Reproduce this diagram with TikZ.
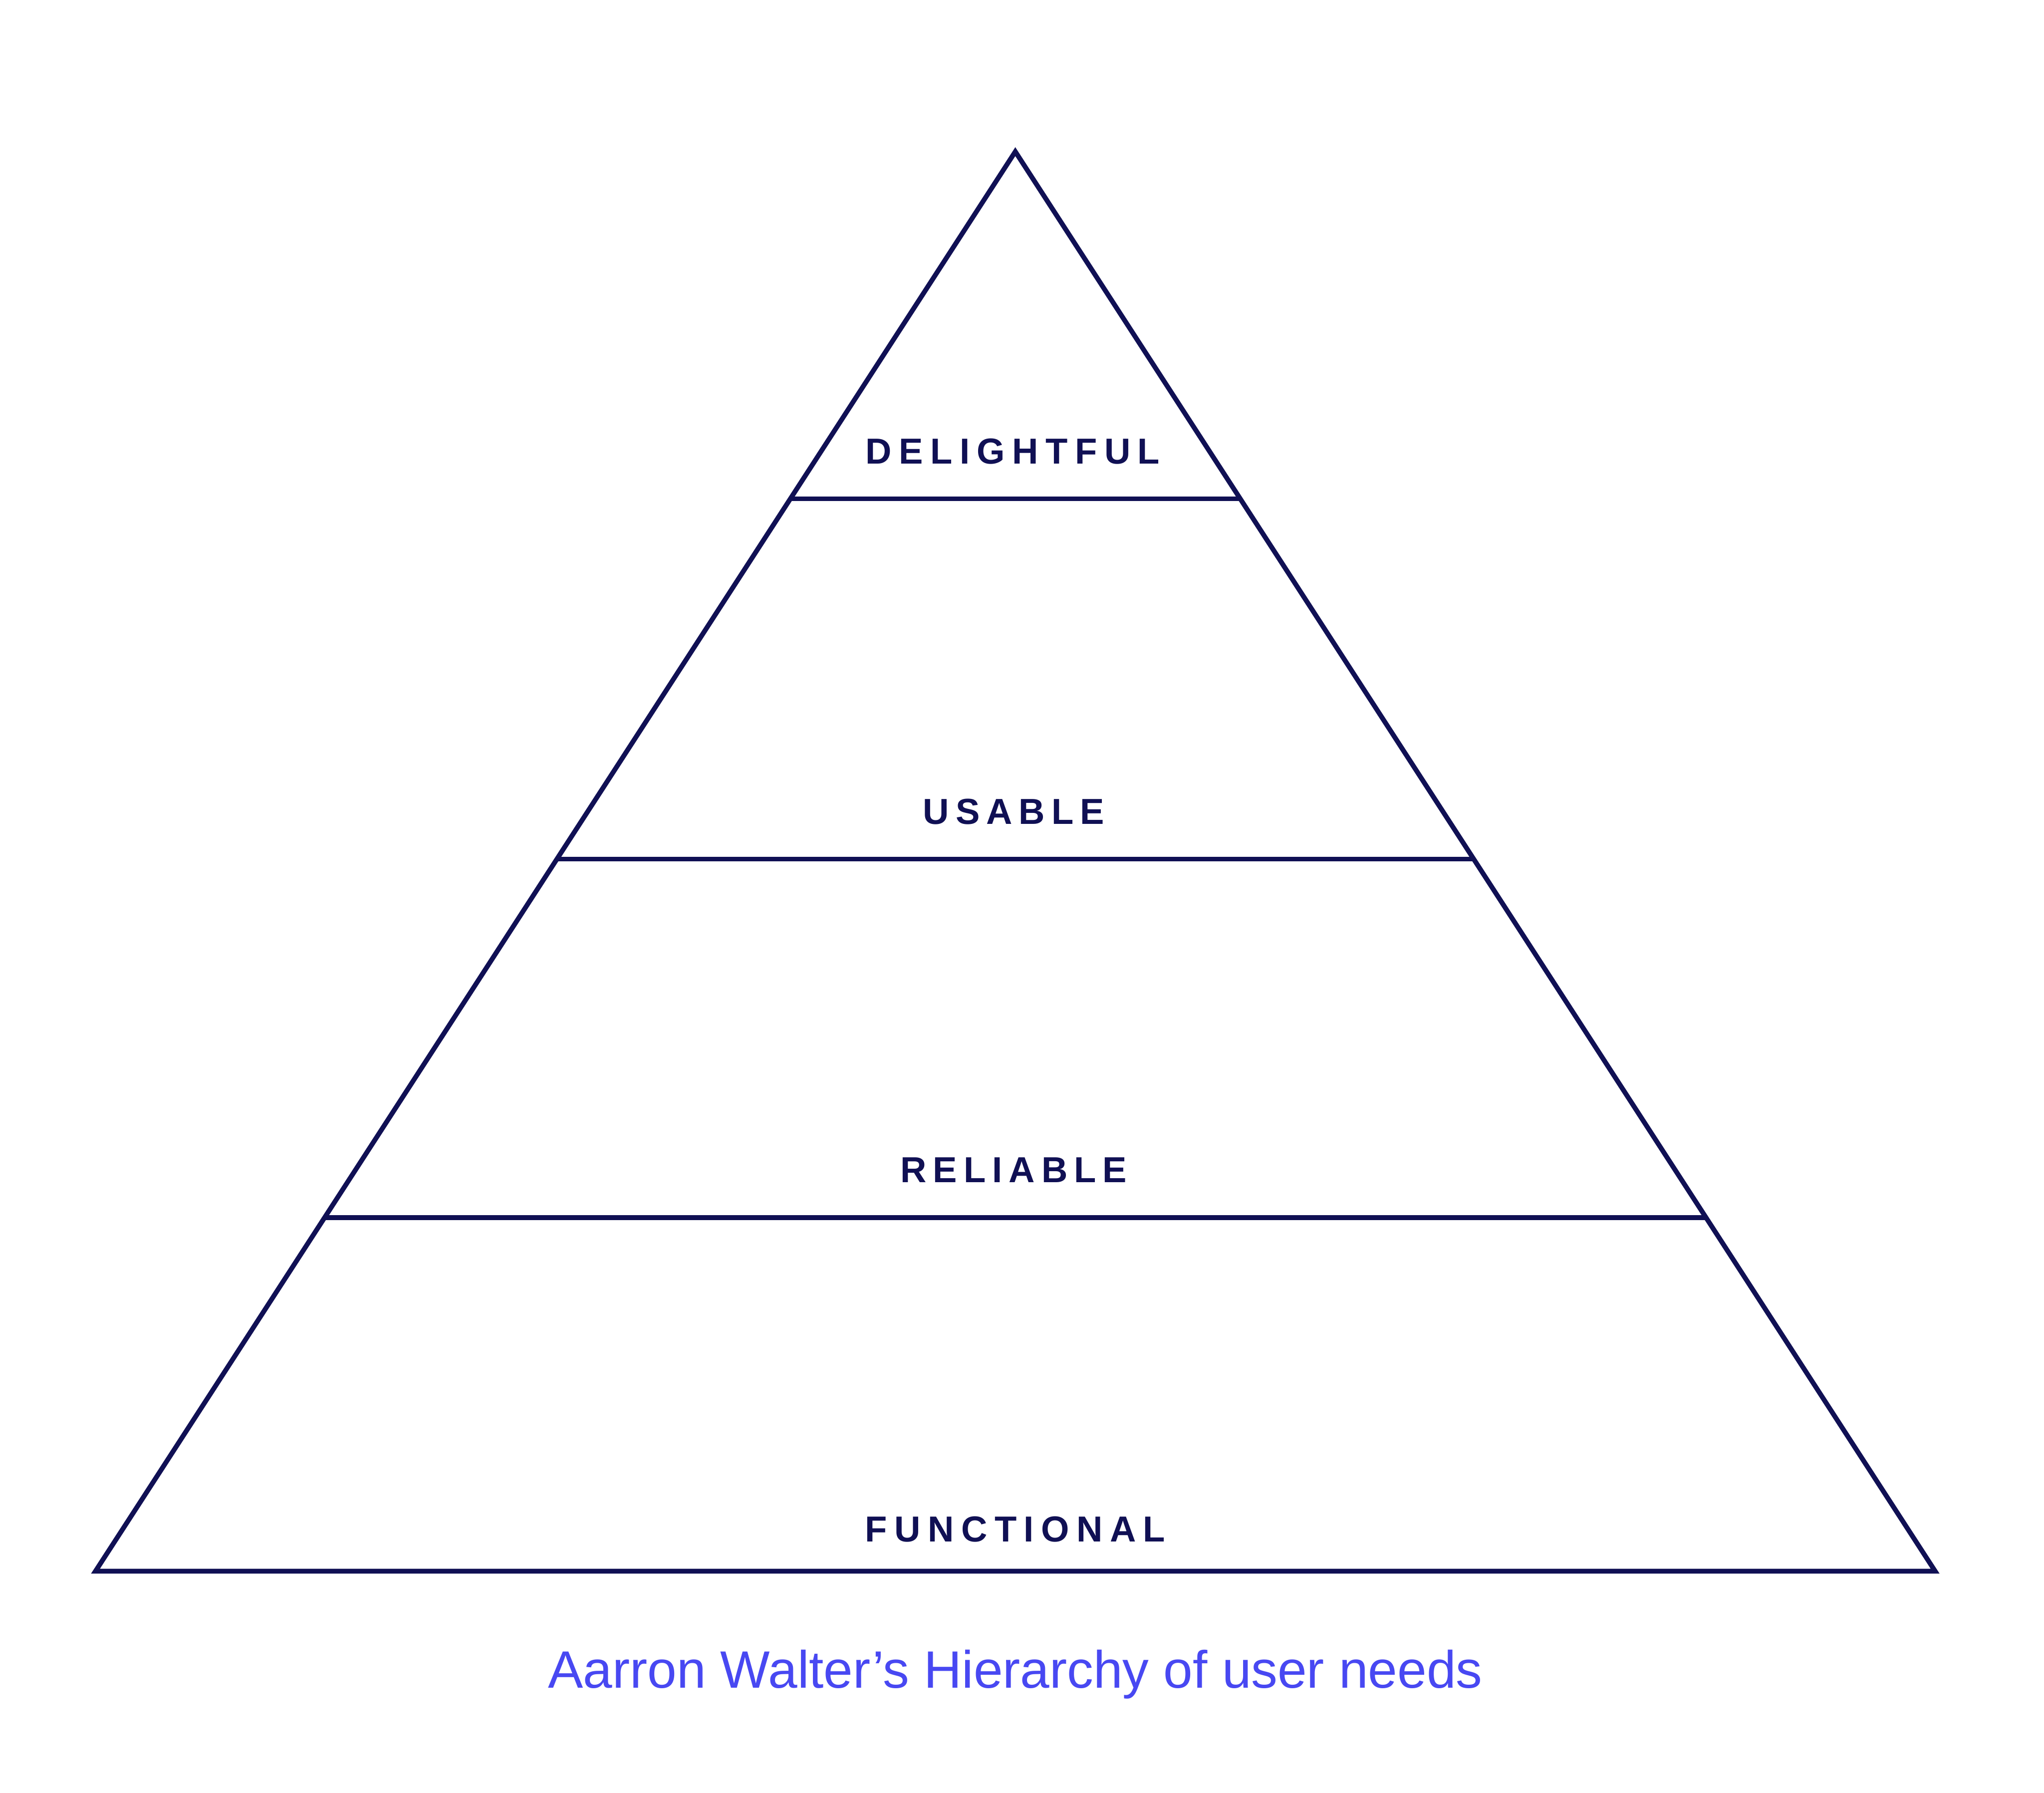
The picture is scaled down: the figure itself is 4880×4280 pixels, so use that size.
\documentclass[tikz,border=0pt]{standalone}
\usepackage{fontspec}
\setmainfont{Liberation Sans}
\newfontfamily\labelfont[LetterSpace=18]{Liberation Sans}
\newfontfamily\labelfontwide[LetterSpace=20]{Liberation Sans}
\usetikzlibrary{calc}
\definecolor{navy}{RGB}{16,16,84}
\definecolor{capblue}{RGB}{72,72,242}
\tikzset{
  edge/.style={draw=navy, line width=0.115cm, line join=miter},
  level/.style={anchor=base, inner sep=0pt, text=navy,
    font=\labelfont\fontsize{24.55pt}{28pt}\selectfont\bfseries},
  levelwide/.style={level,
    font=\labelfontwide\fontsize{24.55pt}{28pt}\selectfont\bfseries},
  caption/.style={anchor=base, inner sep=0pt, text=capblue,
    font=\fontsize{35.7pt}{40pt}\selectfont}
}
\begin{document}
\begin{tikzpicture}[x=0.01cm, y=-0.01cm]
\useasboundingbox (0,0) rectangle (4880,4280);
\fill[white] (0,0) rectangle (4880,4280);
% triangle
\coordinate (apex) at (2424,362);
\coordinate (bl) at (228,3751);
\coordinate (br) at (4620,3751);
\coordinate (l1) at ($(apex)!0.2446!(bl)$);
\coordinate (r1) at ($(apex)!0.2446!(br)$);
\coordinate (l2) at ($(apex)!0.4984!(bl)$);
\coordinate (r2) at ($(apex)!0.4984!(br)$);
\coordinate (l3) at ($(apex)!0.7510!(bl)$);
\coordinate (r3) at ($(apex)!0.7510!(br)$);
\draw[edge] (apex) -- (br) -- (bl) -- cycle;
\draw[edge] (l1) -- (r1);
\draw[edge] (l2) -- (r2);
\draw[edge] (l3) -- (r3);
% labels
\node[levelwide] (delightful) at (2418,1107) {DELIGHTFUL};
\node[level] (usable) at (2420,1968) {USABLE};
\node[level] (reliable) at (2420,2823) {RELIABLE};
\node[levelwide] (functional) at (2424,3681) {FUNCTIONAL};
% caption
\node[caption] (cap) at (2424,4030) {Aarron Walter’s Hierarchy of user needs};
\end{tikzpicture}
\end{document}
